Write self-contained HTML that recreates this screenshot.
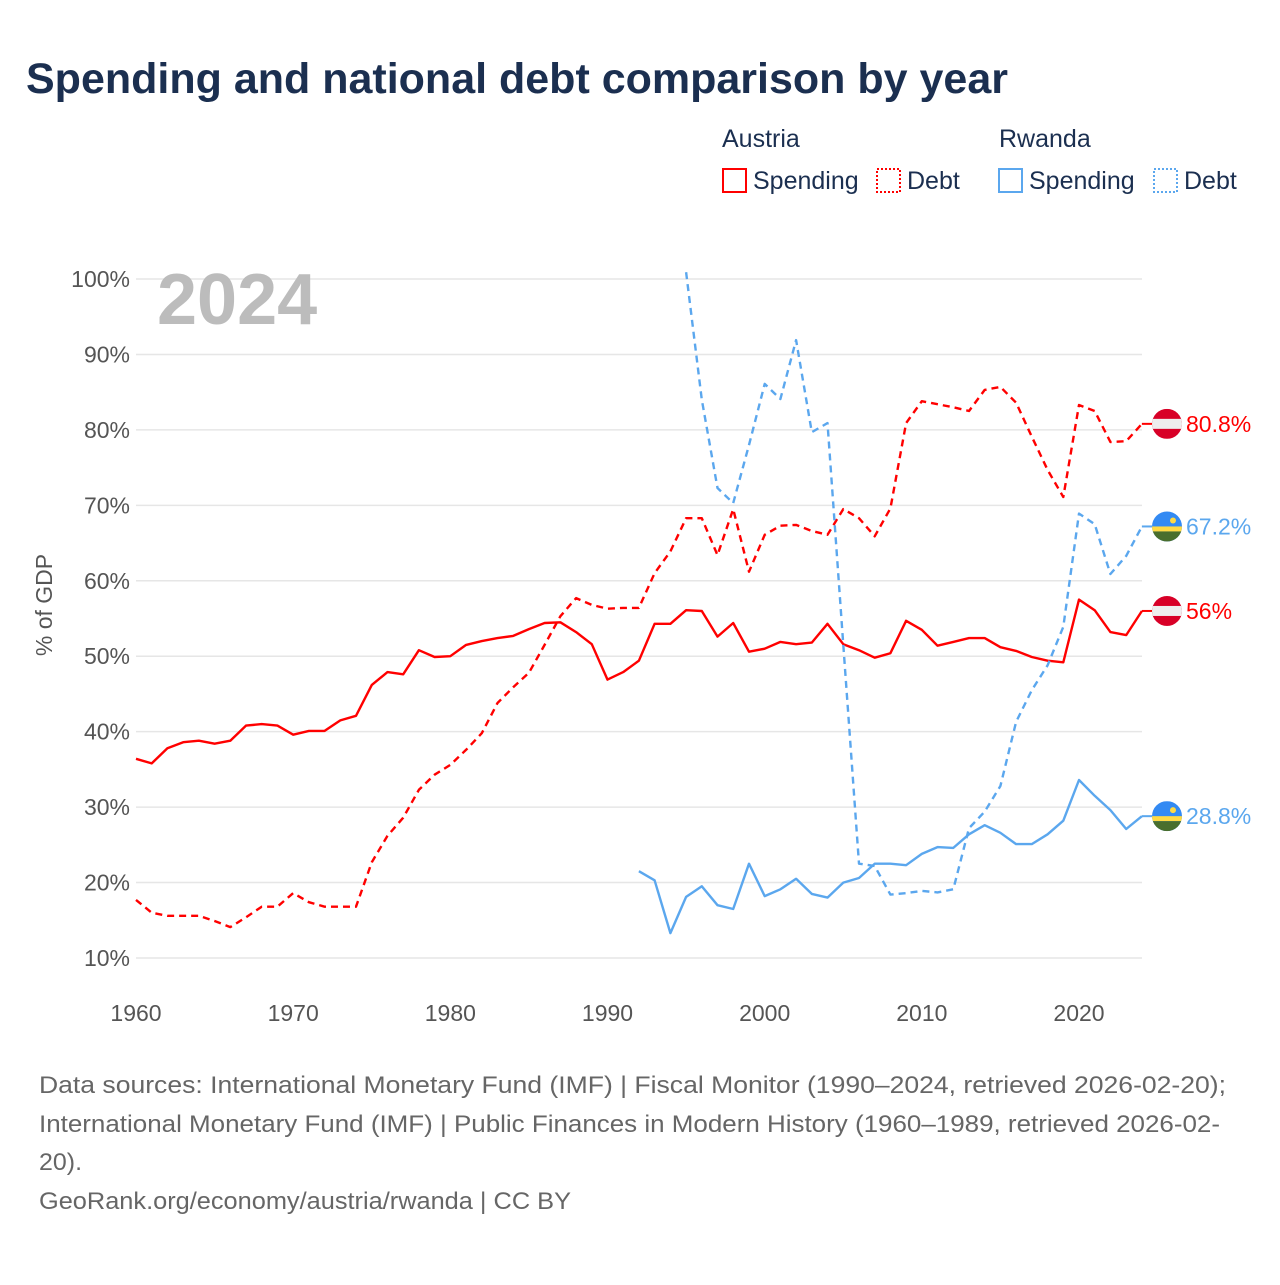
<!DOCTYPE html>
<html><head><meta charset="utf-8">
<style>
body{margin:0;background:#fff;width:1280px;height:1280px;overflow:hidden;font-family:"Liberation Sans",sans-serif;}
</style></head>
<body>
<svg id="chart" width="1280" height="1280" xmlns="http://www.w3.org/2000/svg" style="font-family:'Liberation Sans',sans-serif">
<text x="26" y="93" font-size="43" font-weight="bold" fill="#1b2f50">Spending and national debt comparison by year</text>
<g font-size="25" fill="#1b2f50">
<text x="722" y="147">Austria</text>
<text x="999" y="147">Rwanda</text>
<g><rect x="723" y="169" width="23" height="23" fill="none" stroke="#f00" stroke-width="2"/><text x="753" y="189">Spending</text></g>
<g><rect x="877" y="169" width="23" height="23" fill="none" stroke="#f00" stroke-width="2" stroke-dasharray="2 2"/><text x="907" y="189">Debt</text></g>
<g><rect x="999" y="169" width="23" height="23" fill="none" stroke="#5ba7ee" stroke-width="2"/><text x="1029" y="189">Spending</text></g>
<g><rect x="1154" y="169" width="23" height="23" fill="none" stroke="#5ba7ee" stroke-width="2" stroke-dasharray="2 2"/><text x="1184" y="189">Debt</text></g>
</g>
<g id="grid"></g>
<g id="yticks" font-size="23" fill="#555" text-anchor="end"></g>
<g id="xticks" font-size="23" fill="#555" text-anchor="middle"></g>
<text x="157" y="324" font-size="72" font-weight="bold" fill="#bcbcbc">2024</text>
<text transform="translate(52,605) rotate(-90)" font-size="23" fill="#555" text-anchor="middle">% of GDP</text>
<g id="series"></g>
<g id="endlabels" font-size="23"></g>
<g font-size="24" fill="#666">
<text x="39" y="1093" textLength="1187" lengthAdjust="spacingAndGlyphs">Data sources: International Monetary Fund (IMF) | Fiscal Monitor (1990–2024, retrieved 2026-02-20);</text>
<text x="39" y="1132" textLength="1181" lengthAdjust="spacingAndGlyphs">International Monetary Fund (IMF) | Public Finances in Modern History (1960–1989, retrieved 2026-02-</text>
<text x="39" y="1170" textLength="43" lengthAdjust="spacingAndGlyphs">20).</text>
<text x="39" y="1209" textLength="532" lengthAdjust="spacingAndGlyphs">GeoRank.org/economy/austria/rwanda | CC BY</text>
</g>
</svg>
<script>
const yTicks=[10,20,30,40,50,60,70,80,90,100];
const xTicks=[1960,1970,1980,1990,2000,2010,2020];
const atSpendStart=1960;
const atSpending=[36.4,35.8,37.8,38.6,38.8,38.4,38.8,40.8,41.0,40.8,39.6,40.1,40.1,41.5,42.1,46.2,47.9,47.6,50.8,49.9,50.0,51.5,52.0,52.4,52.7,53.6,54.4,54.5,53.2,51.6,46.9,47.9,49.4,54.3,54.3,56.1,56.0,52.6,54.4,50.6,51.0,51.9,51.6,51.8,54.3,51.6,50.8,49.8,50.4,54.7,53.5,51.4,51.9,52.4,52.4,51.2,50.7,49.9,49.4,49.2,57.5,56.1,53.2,52.8,56.0];
const atDebtStart=1960;
const atDebt=[17.7,16.0,15.6,15.6,15.6,14.9,14.1,15.4,16.8,16.8,18.6,17.4,16.8,16.8,16.8,22.7,26.2,28.6,32.3,34.3,35.6,37.6,39.8,43.8,45.9,47.8,51.5,55.3,57.7,56.8,56.3,56.4,56.4,61.0,63.9,68.3,68.3,63.4,69.5,61.2,66.1,67.3,67.4,66.6,66.1,69.5,68.3,65.9,69.6,80.9,83.8,83.4,83.0,82.5,85.3,85.7,83.6,79.1,74.7,71.1,83.3,82.5,78.4,78.5,80.8];
const rwSpendStart=1992;
const rwSpending=[21.5,20.3,13.3,18.1,19.5,17.0,16.5,22.5,18.2,19.1,20.5,18.5,18.0,20.0,20.6,22.5,22.5,22.3,23.8,24.7,24.6,26.4,27.6,26.6,25.1,25.1,26.4,28.2,33.6,31.5,29.6,27.1,28.8];
const rwDebtStart=1995;
const rwDebt=[100.9,84.0,72.3,70.3,78.0,86.1,84.1,91.9,79.7,80.9,51.5,22.5,22.2,18.4,18.6,18.9,18.7,19.1,27.2,29.4,32.8,41.3,45.5,48.8,53.9,68.9,67.5,60.9,63.3,67.2];

const NS='http://www.w3.org/2000/svg';
const X=yr=>136+(yr-1960)*(1079-136)/60;
const Y=v=>958-(v-10)*(958-279)/90;
function mk(t,a,p){const e=document.createElementNS(NS,t);for(const k in a)e.setAttribute(k,a[k]);p.appendChild(e);return e;}
const grid=document.getElementById('grid'),yt=document.getElementById('yticks'),xt=document.getElementById('xticks');
yTicks.forEach(v=>{
  const l=mk('line',{x1:136,x2:1142,y1:Y(v),y2:Y(v),stroke:'#e6e6e6','stroke-width':1.5},grid);
  
  
  const t=mk('text',{x:130,y:Y(v)+8},yt);t.textContent=v+'%';
  
  
});
xTicks.forEach(v=>{
  const t=mk('text',{x:X(v),y:1021},xt);t.textContent=v;
  
  
});
const ser=document.getElementById('series');
function line(start,vals,color,dash,name){
  const pts=vals.map((v,i)=>X(start+i).toFixed(1)+','+Y(v).toFixed(1)).join(' ');
  const a={points:pts,fill:'none',stroke:color,'stroke-width':2.4,'stroke-linejoin':'round'};
  if(dash)a['stroke-dasharray']='7 5';
  const p=mk('polyline',a,ser);
  
  
  const last=vals[vals.length-1];
  const c=mk('line',{x1:X(start+vals.length-1),x2:1152,y1:Y(last),y2:Y(last),stroke:color,'stroke-width':2},ser);
  
  
}
line(atSpendStart,atSpending,'#ff0000',false,'austria-spending-line');
line(atDebtStart,atDebt,'#ff0000',true,'austria-debt-line');
line(rwSpendStart,rwSpending,'#5ba7ee',false,'rwanda-spending-line');
line(rwDebtStart,rwDebt,'#5ba7ee',true,'rwanda-debt-line');

const el=document.getElementById('endlabels');
function flag(v,country,color,name){
  const cy=Y(v),cx=1167;
  const g=mk('g',{},el);
  
  
  const id='clip'+name;
  const cp=mk('clipPath',{id:id},g);mk('circle',{cx:cx,cy:cy,r:15},cp);
  const fg=mk('g',{'clip-path':'url(#'+id+')'},g);
  if(country==='at'){
    mk('rect',{x:cx-15,y:cy-15,width:30,height:30,fill:'#d80027'},fg);
    mk('rect',{x:cx-15,y:cy-5,width:30,height:10,fill:'#eeeeee'},fg);
  }else{
    mk('rect',{x:cx-15,y:cy-15,width:30,height:30,fill:'#338af3'},fg);
    mk('rect',{x:cx-15,y:cy,width:30,height:5,fill:'#ffda44'},fg);
    mk('rect',{x:cx-15,y:cy+5,width:30,height:10,fill:'#496e2d'},fg);
    mk('circle',{cx:cx+6,cy:cy-6,r:3,fill:'#ffda44'},fg);
  }
  const t=mk('text',{x:1186,y:cy+8,fill:color},g);
  t.textContent=(Math.round(v*10)/10)+'%';
}
flag(atDebt[atDebt.length-1],'at','#ff0000','label-austria-debt');
flag(rwDebt[rwDebt.length-1],'rw','#5ba7ee','label-rwanda-debt');
flag(atSpending[atSpending.length-1],'at','#ff0000','label-austria-spending');
flag(rwSpending[rwSpending.length-1],'rw','#5ba7ee','label-rwanda-spending');
</script>
</body></html>
